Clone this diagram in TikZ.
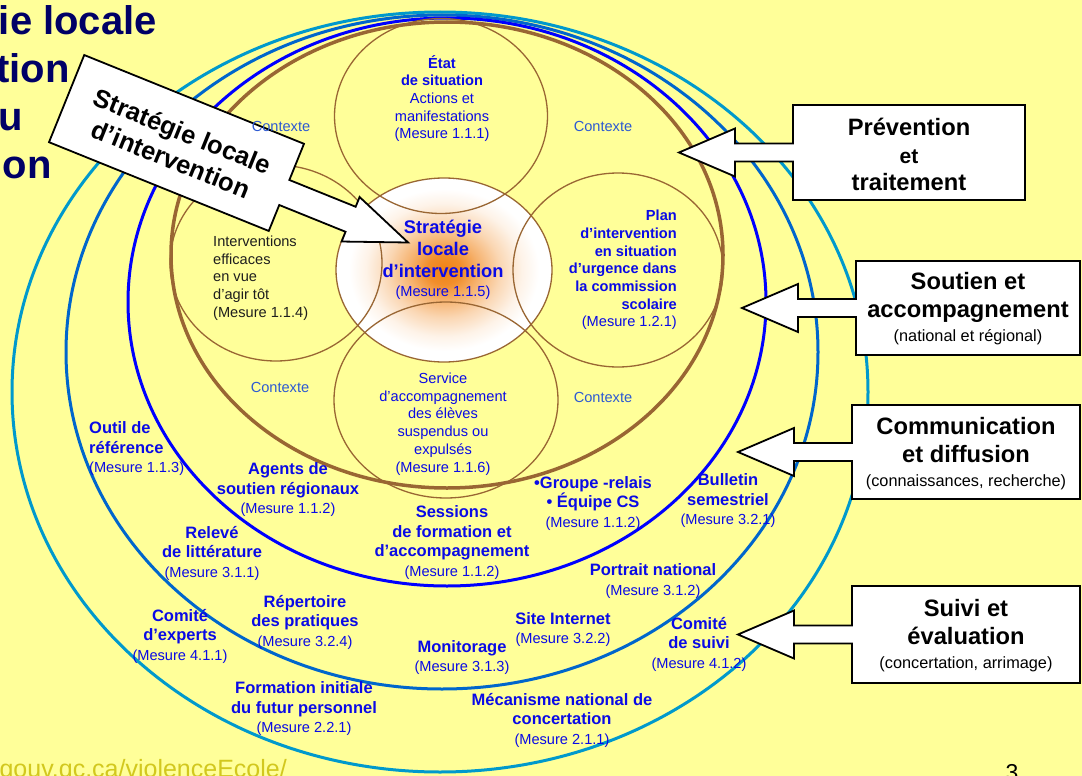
\documentclass[tikz,border=0pt]{standalone}
\usepackage{fontspec}
\setmainfont{Liberation Sans}
\usepackage{tikz}

\definecolor{fond}{RGB}{255,255,153}
\definecolor{brun}{RGB}{153,102,51}
\definecolor{bleu}{RGB}{0,0,255}
\definecolor{bleumoyen}{RGB}{0,102,204}
\definecolor{turquoise}{RGB}{0,153,204}
\definecolor{texte}{RGB}{10,10,230}
\definecolor{contexte}{RGB}{45,90,210}
\definecolor{marine}{RGB}{0,0,102}
\definecolor{olive}{RGB}{210,200,30}
\definecolor{gris}{RGB}{30,30,30}
\definecolor{orangefonce}{RGB}{240,130,20}

\pgfdeclareradialshading{noyau}{\pgfpoint{0bp}{0bp}}{color(0bp)=(orangefonce); color(4bp)=(orangefonce!90!white); color(8bp)=(orangefonce!62!white); color(13bp)=(orangefonce!32!white); color(18bp)=(orangefonce!10!white); color(22bp)=(white); color(50bp)=(white)}

\newcommand{\mes}[1]{{\fontsize{14.6}{17}\selectfont\mdseries (Mesure #1)}}
\newcommand{\sstitre}[1]{{\fontsize{16.3}{19}\selectfont\mdseries #1}}

\begin{document}
\begin{tikzpicture}[x=1pt,y=-1pt,
    anneau/.style={line width=3pt},
    cercle/.style={draw=brun, line width=1.3pt},
    fleche/.style={draw=black, fill=white, line width=1.8pt, line join=miter},
    titre/.style={anchor=base east, inner sep=0pt, text=marine, font=\fontsize{40}{48}\selectfont\bfseries},
    interne/.style={inner sep=0pt, align=center, text=texte, font=\fontsize{14.6}{17.7}\selectfont},
    etiq/.style={inner sep=0pt, align=center, text=texte, font=\fontsize{16.5}{19.5}\selectfont\bfseries},
    ctx/.style={inner sep=0pt, text=contexte, font=\fontsize{14.6}{17}\selectfont},
    boite/.style={inner sep=0pt, align=center, font=\fontsize{23.7}{28}\selectfont\bfseries}]
\useasboundingbox (0,0) rectangle (1082,776);
\clip (0,0) rectangle (1082,776);
\fill[fond] (0,0) rectangle (1082,776);

% anneaux
\draw[anneau, turquoise] (440,392) ellipse [x radius=428, y radius=380];
\draw[anneau, bleumoyen] (442,352) ellipse [x radius=376, y radius=337];
\draw[anneau, bleu] (447,302) ellipse [x radius=319, y radius=284];
\draw[anneau, brun, line width=3.5pt] (447,255) ellipse [x radius=276, y radius=233];

% cercles du centre
\shade[shading=noyau] (444,270) ellipse [x radius=108, y radius=92];
\draw[cercle] (441,116) ellipse [x radius=106.5, y radius=97.5];
\draw[cercle] (276,263) ellipse [x radius=106, y radius=98];
\draw[cercle] (618,270) ellipse [x radius=105, y radius=97];
\draw[cercle] (446,400) ellipse [x radius=112, y radius=98];
\draw[cercle] (444,270) ellipse [x radius=108, y radius=92];

% bulle
\begin{scope}[shift={(176.5,143)}, rotate=-22]
  \draw[fleche] (-118.5,-47) -- (118.5,-47) -- (118.5,-8) -- (190,-8) -- (190,-18.5) -- (252,5.5)
    -- (190,29.5) -- (190,19) -- (118.5,19) -- (118.5,47) -- (-118.5,47) -- cycle;
  \node[rotate=-22, inner sep=0pt, align=center, font=\fontsize{25.5}{30}\selectfont\bfseries] (bulle) at (1,2) {Stratégie locale\\d’intervention};
\end{scope}

% boites de droite
\foreach \l/\r/\t/\b in {793/1025/105/200, 856/1080/261/355, 852/1080/405/499, 852/1080/586/683} {
  \pgfmathsetmacro\m{(\t+\b)/2}
  \draw[fleche] (\l,\t) -- (\r,\t) -- (\r,\b) -- (\l,\b) -- (\l,\m+9) -- (\l-58,\m+9) -- (\l-58,\m+24)
    -- (\l-114,\m) -- (\l-58,\m-24) -- (\l-58,\m-9) -- (\l,\m-9) -- cycle;
}
\node[boite] (prev) at (909,154.5) {Prévention\\[0.5pt]{\fontsize{21}{24}\selectfont et}\\[-1pt]traitement};
\node[boite] (soutien) at (968,308.5) {Soutien et\\accompagnement\\[-4pt]\sstitre{(national et régional)}};
\node[boite] (comm) at (966,453.5) {Communication\\et diffusion\\[-4pt]\sstitre{(connaissances, recherche)}};
\node[boite] (eval) at (966,635.5) {Suivi et\\évaluation\\[-4pt]\sstitre{(concertation, arrimage)}};

% titre coupe
\node[titre] (t1) at (157,35) {ie locale};
\node[titre] (t2) at (70,83) {tion};
\node[titre] (t3) at (23,130.5) {u};
\node[titre] (t4) at (52,178) {ion};

% textes des cercles
\node[interne] (etat) at (442,98.5) {\textbf{État}\\\textbf{de situation}\\Actions et\\manifestations\\(Mesure 1.1.1)};
\node[interne, font=\fontsize{18.3}{22}\selectfont\bfseries] (strat) at (443,259.5) {Stratégie\\locale\\d’intervention\\[-3pt]\mes{1.1.5}};
\node[interne, anchor=east, align=right, font=\fontsize{14.6}{17.7}\selectfont\bfseries] (plan) at (677,270) {Plan\\d’intervention\\en situation\\d’urgence dans\\la commission\\scolaire\\\mes{1.2.1}};
\node[interne, anchor=west, align=left, text=gris] (agir) at (213,278) {Interventions\\efficaces\\en vue\\d’agir tôt\\(Mesure 1.1.4)};
\node[interne] (service) at (443,424) {Service\\d’accompagnement\\des élèves\\suspendus ou\\expulsés\\(Mesure 1.1.6)};

\node[ctx] (ctx1) at (281,126) {Contexte};
\node[ctx] (ctx2) at (603,126) {Contexte};
\node[ctx] (ctx3) at (280,387) {Contexte};
\node[ctx] (ctx4) at (603,397) {Contexte};

% textes des anneaux
\node[etiq, anchor=west, align=left] (outil) at (89,449) {Outil de\\référence\\\mes{1.1.3}};
\node[etiq] (agents) at (288,490) {Agents de\\soutien régionaux\\\mes{1.1.2}};
\node[etiq] (releve) at (212,553) {Relevé\\de littérature\\\mes{3.1.1}};
\node[etiq] (experts) at (180,636) {Comité\\d’experts\\\mes{4.1.1}};
\node[etiq] (repertoire) at (305,622) {Répertoire\\des pratiques\\\mes{3.2.4}};
\node[etiq] (formation) at (304,709) {Formation initiale\\du futur personnel\\\mes{2.2.1}};
\node[etiq] (sessions) at (452,542.5) {Sessions\\de formation et\\d’accompagnement\\\mes{1.1.2}};
\node[etiq] (relais) at (593,503.5) {•Groupe -relais\\• Équipe CS\\\mes{1.1.2}};
\node[etiq] (bulletin) at (728,501) {Bulletin\\semestriel\\\mes{3.2.1}};
\node[etiq] (portrait) at (653,581) {Portrait national\\\mes{3.1.2}};
\node[etiq] (site) at (563,629.5) {Site Internet\\\mes{3.2.2}};
\node[etiq] (monito) at (462,657.5) {Monitorage\\\mes{3.1.3}};
\node[etiq] (suivi) at (699,644) {Comité\\de suivi\\\mes{4.1.2}};
\node[etiq] (mecanisme) at (562,720) {Mécanisme national de\\concertation\\\mes{2.1.1}};

% bas de page
\node[anchor=base east, inner sep=0pt, text=olive, font=\fontsize{25}{30}\selectfont] (url) at (287,777) {gouv.qc.ca/violenceEcole/};
\node[anchor=base, inner sep=0pt, font=\fontsize{23}{27}\selectfont] (page) at (1012,780) {3};
\end{tikzpicture}
\end{document}
